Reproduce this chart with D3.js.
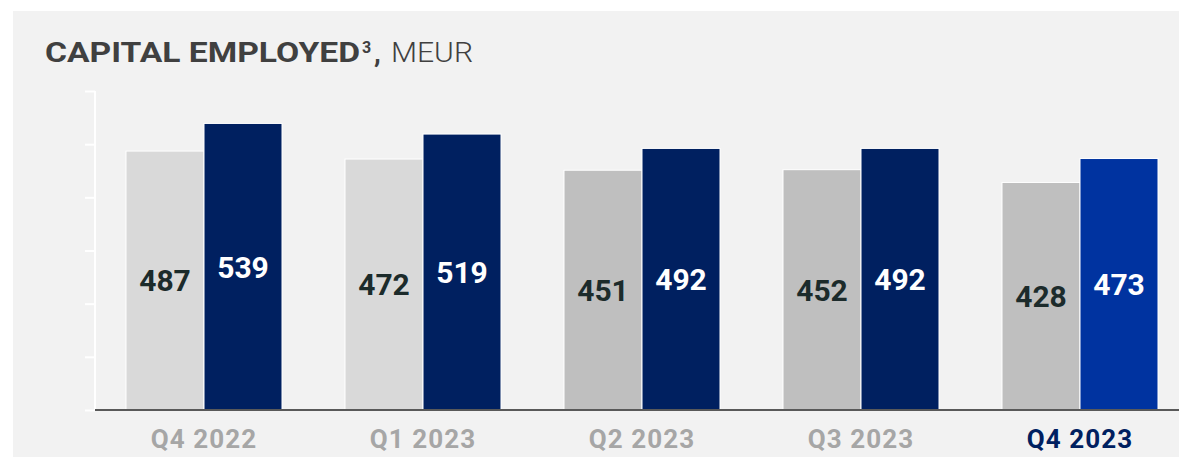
<!DOCTYPE html>
<html><head><meta charset="utf-8">
<script src="https://cdn.jsdelivr.net/npm/d3@7"></script>
<style>html,body{margin:0;padding:0;background:#fff;}svg{display:block;}</style>
</head><body>
<script>
const categories = ["Q4 2022","Q1 2023","Q2 2023","Q3 2023","Q4 2023"];
const seriesKeys = ["prev","curr"];
const prevValues = [487, 472, 451, 452, 428];
const currValues = [539, 519, 492, 492, 473];
const yTicks = [0,100,200,300,400,500,600];

const W = 1179, H = 457;
const svg = d3.select("body").append("svg").attr("width", W).attr("height", H);
svg.append("rect").attr("x",13).attr("y",11).attr("width",W-13).attr("height",H-11).attr("fill","#f2f2f2");

const font = "Roboto, 'Noto Sans', sans-serif";

// title
const tg = svg.append("g").attr("font-family",font).attr("fill","#404040");
tg.append("text").attr("x",45).attr("y",62).attr("font-size",27.5).attr("font-weight",700)
  .attr("textLength",315).attr("lengthAdjust","spacingAndGlyphs").text("CAPITAL EMPLOYED");
tg.append("text").attr("x",362).attr("y",53).attr("font-size",16).attr("font-weight",700).text("3");
tg.append("text").attr("x",374).attr("y",62).attr("font-size",27.5).attr("font-weight",700).text(",");
tg.append("text").attr("x",391).attr("y",62).attr("font-size",27.5).attr("font-weight",300)
  .attr("textLength",82).attr("lengthAdjust","spacingAndGlyphs").text("MEUR");

const y = d3.scaleLinear().domain([0,600]).range([410,91]);
const x = d3.scaleBand().domain(categories).range([94.5, 94.5+5*219]).padding(0);
const xs = d3.scaleBand().domain(seriesKeys).range([31.5, x.bandwidth()-31.5]).padding(0);

// y axis (white)
const yAxis = svg.append("g").attr("transform","translate(95,0)")
  .call(d3.axisLeft(y).tickValues(yTicks).tickSize(10).tickFormat(""));
yAxis.selectAll("path,line").attr("stroke","#ffffff").attr("stroke-width",2);
yAxis.select(".domain").attr("d","M0,"+y(600)+"V"+y(0));

const data = categories.map((c,i)=>({cat:c, i, vals:[{k:"prev",v:prevValues[i]},{k:"curr",v:currValues[i]}]}));
const prevColor = i => i < 2 ? "#d9d9d9" : "#bfbfbf";
const currColor = i => i === 4 ? "#0033a0" : "#002060";

const g = svg.selectAll("g.grp").data(data).join("g").attr("class","grp")
  .attr("transform", d=>`translate(${x(d.cat)},0)`);
g.selectAll("rect").data(d=>d.vals.map(v=>({...v,i:d.i}))).join("rect")
  .attr("x", d=>xs(d.k)).attr("width", xs.bandwidth())
  .attr("y", d=>y(d.v)).attr("height", d=>y(0)-y(d.v))
  .attr("fill", d=> d.k==="prev" ? prevColor(d.i) : currColor(d.i))
  .attr("stroke","#ffffff").attr("stroke-width",1);
g.selectAll("text.val").data(d=>d.vals.map(v=>({...v,i:d.i}))).join("text").attr("class","val")
  .attr("x", d=>xs(d.k)+xs.bandwidth()/2)
  .attr("y", d=>(y(d.v)+y(0))/2)
  .attr("dy","0.36em")
  .attr("text-anchor","middle").attr("font-family",font).attr("font-weight",700).attr("font-size",30)
  .attr("fill", d=> d.k==="prev" ? "#1c2b2b" : "#ffffff")
  .text(d=>d.v);

// x axis baseline
const xAxis = svg.append("g").attr("transform",`translate(0,${y(0)})`)
  .call(d3.axisBottom(x).tickSize(0).tickPadding(38));
xAxis.select(".domain").attr("stroke","#595959").attr("stroke-width",2).attr("d","M95,0H"+W);
xAxis.selectAll("text").attr("font-family",font).attr("font-weight",700).attr("font-size",26)
  .attr("dy","0").attr("letter-spacing",1.1)
  .attr("fill", (d,i)=> i===4 ? "#002060" : "#a6a6a6");
</script>
</body></html>
